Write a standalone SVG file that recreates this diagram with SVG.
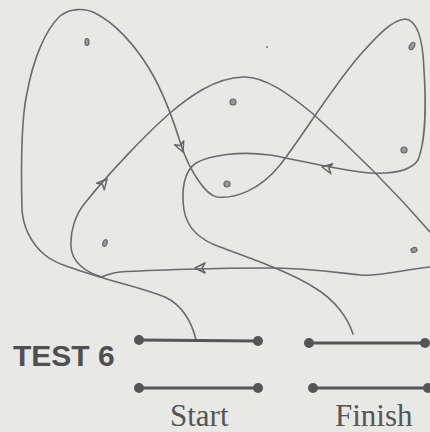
<svg xmlns="http://www.w3.org/2000/svg" width="430" height="432" viewBox="0 0 430 432">
<defs>
<style>
.pen{fill:none;stroke:#6b6b6b;stroke-width:1.6;stroke-linecap:round;stroke-linejoin:round}
.ah{fill:none;stroke:#666;stroke-width:1.5;stroke-linejoin:round}
.dot{fill:#9a9a9a;stroke:#666;stroke-width:1.2}
.bar{stroke:#555;stroke-width:3.2;stroke-linecap:round}
.end{fill:#555}
.lbl{font-family:"Liberation Serif","Times New Roman",serif;font-size:31px;fill:#555}
.title{font-family:"Liberation Sans",Arial,sans-serif;font-weight:bold;font-size:30px;fill:#4f4f4f}
</style>
<path id="ahd" d="M0,0 L-10,-5 L-7,0 L-10,5 Z"/>
</defs>
<rect width="430" height="432" fill="#e8e8e6"/>
<g id="connectors">
<path class="pen" d="M196,340 C192,322 182,305 165,297 C145,289 115,282 100,277 C80,271 55,264 45,255 C30,243 23,225 22,210 C21,170 21,120 27,93 C33,60 45,30 60,16 C70,8 85,8 95,13 C115,23 135,45 150,70 C165,95 175,125 182,148 C190,170 205,195 217,197 C235,199 260,190 280,165 C300,140 330,90 360,55 C378,35 392,20 405,19 C418,20 423,40 424,70 C426,100 426,140 418,160 C410,172 390,174 370,173 C340,171 300,160 270,155 C240,151 210,155 196,163 C184,171 181,190 184,210 C187,228 200,240 220,247 C250,258 290,272 315,288 C335,300 348,318 353,334"/>
<path class="pen" d="M102,277 C85,272 72,262 71,247 C70,232 75,215 85,203 C110,172 145,135 170,113 C190,96 215,78 243,77 C265,76 290,95 312,113 C340,138 385,180 430,232 C450,255 450,268 430,267 C400,270 380,277 360,275 C340,273 310,268 265,268 C220,268 150,270 120,272 C112,273 106,275 102,277"/>
<use href="#ahd" class="ah" transform="translate(183,152) rotate(67)"/>
<use href="#ahd" class="ah" transform="translate(107,179) rotate(-49)"/>
<use href="#ahd" class="ah" transform="translate(322,167) rotate(190)"/>
<use href="#ahd" class="ah" transform="translate(195,268) rotate(180)"/>
</g>
<g id="marks">
<ellipse class="dot" cx="87" cy="42" rx="2" ry="3.5"/>
<circle class="dot" cx="233" cy="102" r="3"/>
<ellipse class="dot" cx="412" cy="46" rx="2.3" ry="4" transform="rotate(30 412 46)" fill="none"/>
<circle class="dot" cx="404" cy="150" r="3"/>
<circle class="dot" cx="227" cy="184" r="3"/>
<ellipse class="dot" cx="105" cy="243" rx="2" ry="3.5" transform="rotate(20 105 243)"/>
<ellipse class="dot" cx="414" cy="250" rx="3" ry="2.4" transform="rotate(-20 414 250)"/>
<circle cx="267" cy="47" r="1" fill="#777"/>
</g>
<g id="title"><text class="title" x="13" y="366">TEST 6</text></g>
<g id="start">
<line class="bar" x1="139" y1="340" x2="258" y2="341"/>
<circle class="end" cx="139" cy="340" r="5"/><circle class="end" cx="258" cy="341" r="5"/>
<line class="bar" x1="139" y1="388" x2="258" y2="388"/>
<circle class="end" cx="139" cy="388" r="5"/><circle class="end" cx="258" cy="388" r="5"/>
<text class="lbl" x="170" y="426">Start</text>
</g>
<g id="finish">
<line class="bar" x1="309" y1="343" x2="425" y2="343"/>
<circle class="end" cx="309" cy="343" r="5"/><circle class="end" cx="425" cy="343" r="5"/>
<line class="bar" x1="313" y1="388" x2="428" y2="388"/>
<circle class="end" cx="313" cy="388" r="5"/><circle class="end" cx="428" cy="388" r="5"/>
<text class="lbl" x="335" y="426">Finish</text>
</g>
</svg>
